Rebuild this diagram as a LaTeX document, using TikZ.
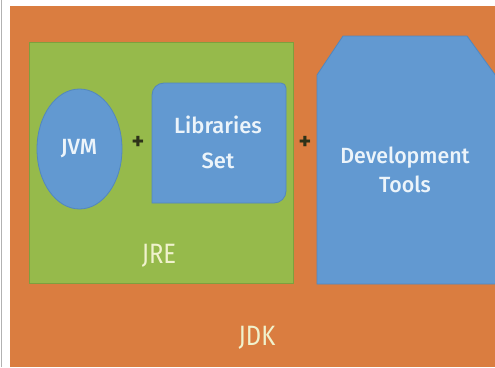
\documentclass[tikz,border=0pt]{standalone}
\usepackage{fontspec}
\setmainfont{Fira Sans}
\newfontfamily\labelfont{Fira Sans Medium}
\begin{document}
\begin{tikzpicture}[x=1pt,y=-1pt]
  \definecolor{jdkorange}{RGB}{218,125,64}
  \definecolor{jregreen}{RGB}{150,186,75}
  \definecolor{jregreenedge}{RGB}{125,160,62}
  \definecolor{partblue}{RGB}{98,153,209}
  \definecolor{partblueedge}{RGB}{82,135,190}
  \definecolor{textwhite}{RGB}{236,244,250}
  \definecolor{textcream}{RGB}{240,242,205}
  \definecolor{plusdark}{RGB}{45,50,25}
  \tikzset{
    part/.style={fill=partblue, draw=partblueedge, line width=0.8pt},
    parttext/.style={text=textwhite, font=\labelfont\fontsize{22}{26}\selectfont, align=center},
    boxlabel/.style={text=textcream, font=\fontsize{28}{30}\selectfont, xscale=0.85},
    plus/.style={text=plusdark, font=\bfseries\fontsize{24}{24}\selectfont}
  }
  % canvas
  \useasboundingbox (0,0) rectangle (495,367);
  \fill[white] (0,0) rectangle (495,367);
  \draw[gray!60, line width=1pt] (1,0) -- (1,367);
  % JDK
  \fill[jdkorange] (10,6) rectangle (495,367);
  % JRE
  \draw[fill=jregreen, draw=jregreenedge, line width=0.8pt] (29,42) rectangle (293,283);
  % JVM
  \draw[part] (79.5,149) ellipse [x radius=42.5, y radius=60];
  \node[parttext] (jvm) at (79,149) {JVM};
  % Libraries set: rounded top-left, top-right and bottom-right corners
  \draw[part] (152,203) [rounded corners=12] -- (152,83) [rounded corners=5] -- (286,83)
     [rounded corners=12] -- (286,203) [sharp corners] -- cycle;
  \node[parttext, text depth=0pt] (libs) at (218,142) {Libraries\\[9pt]Set};
  % Development tools
  \draw[part] (317,284) -- (317,75) -- (343,36) -- (467,36) -- (496,76) -- (496,284) -- cycle;
  \node[parttext, xscale=0.97] (dev) at (405,170) {Development\\[3pt]Tools};
  % plus signs
  \node[plus] (plusa) at (138,143) {+};
  \node[plus] (plusb) at (305,143) {+};
  % labels
  \node[boxlabel] (jre) at (159,256) {JRE};
  \node[boxlabel] (jdk) at (257,338) {JDK};
\end{tikzpicture}
\end{document}
